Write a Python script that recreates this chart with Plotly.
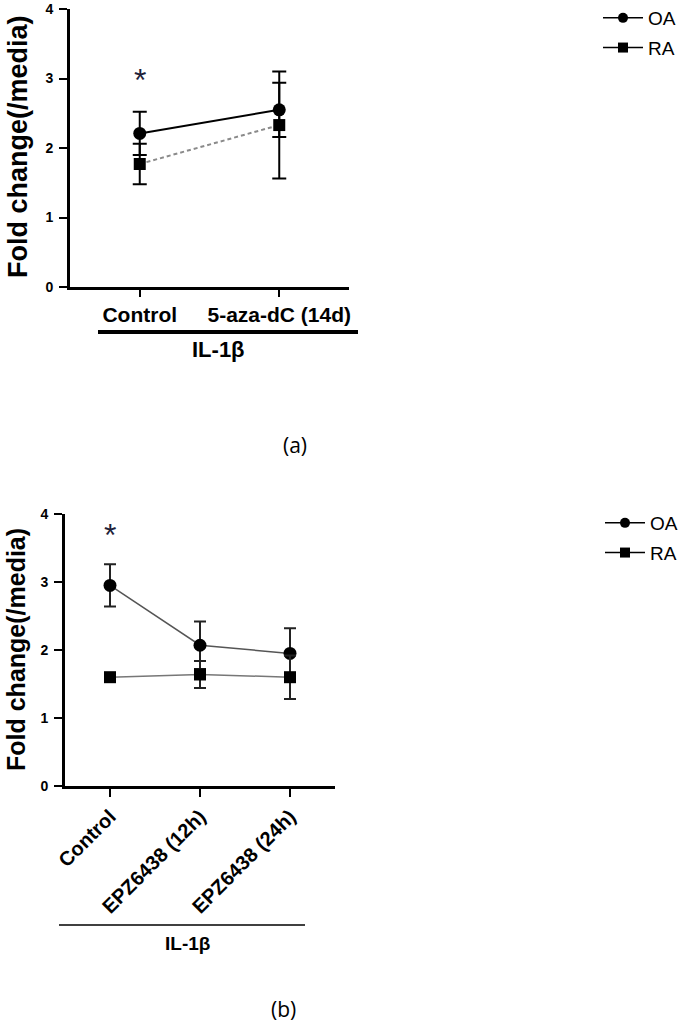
import plotly.graph_objects as go

W, H = 681, 1028

# ---------------- data ----------------
cats_a = ["Control", "5-aza-dC (14d)"]
oa_a = [2.21, 2.55]
oa_a_err = [0.31, 0.39]
ra_a = [1.77, 2.33]
ra_a_err = [0.29, 0.77]

cats_b = ["Control", "EPZ6438 (12h)", "EPZ6438 (24h)"]
oa_b = [2.95, 2.07, 1.95]
oa_b_err = [0.31, 0.35, 0.37]
ra_b = [1.60, 1.64, 1.60]
ra_b_err = [0.0, 0.20, 0.32]

y_ticks = [0, 1, 2, 3, 4]
series_names = ["OA", "RA"]
group_label = "IL-1β"
y_title = "Fold change(/media)"
star_a = (0, 3.03)
star_b = (0, 3.75)


def px(x):
    return x / W


def py(y):
    return (H - y) / H


fig = go.Figure()

# Panel (a)
fig.add_trace(go.Scatter(
    x=cats_a, y=oa_a, mode="lines+markers", xaxis="x", yaxis="y", showlegend=False,
    line=dict(color="black", width=2),
    marker=dict(symbol="circle", size=13, color="black"),
    error_y=dict(type="data", array=oa_a_err, color="black", thickness=2, width=7)))
fig.add_trace(go.Scatter(
    x=cats_a, y=ra_a, mode="lines+markers", xaxis="x", yaxis="y", showlegend=False,
    line=dict(color="#8a8a8a", width=2, dash="4px,3px"),
    marker=dict(symbol="square", size=12, color="black"),
    error_y=dict(type="data", array=ra_a_err, color="black", thickness=2, width=7)))

# Panel (b)
fig.add_trace(go.Scatter(
    x=cats_b, y=oa_b, mode="lines+markers", xaxis="x2", yaxis="y2", showlegend=False,
    line=dict(color="#555555", width=1.5),
    marker=dict(symbol="circle", size=13, color="black"),
    error_y=dict(type="data", array=oa_b_err, color="#222222", thickness=2, width=6)))
fig.add_trace(go.Scatter(
    x=cats_b, y=ra_b, mode="lines+markers", xaxis="x2", yaxis="y2", showlegend=False,
    line=dict(color="#777777", width=1.5),
    marker=dict(symbol="square", size=12, color="black"),
    error_y=dict(type="data", array=ra_b_err, color="#222222", thickness=2, width=6)))

# legend entries
for leg in ["legend", "legend2"]:
    for name, sym in zip(series_names, ["circle", "square"]):
        fig.add_trace(go.Scatter(
            x=[None], y=[None], mode="lines+markers", name=name, legend=leg,
            legendgroup=leg + name, xaxis="x", yaxis="y",
            line=dict(color="black", width=1.5),
            marker=dict(symbol=sym, size=10, color="black")))

common_y = dict(range=[0, 4], tickvals=y_ticks, showgrid=False, zeroline=False,
                showline=True, linecolor="black", linewidth=3, ticks="outside",
                ticklen=8, tickwidth=2, tickcolor="black", ticklabelstandoff=3,
                automargin=False, ticklabeloverflow="allow",
                tickfont=dict(family="Arial", size=14, color="black", weight="bold"))

common_x = dict(type="category", showgrid=False, zeroline=False, automargin=False,
                showline=True, linecolor="black", linewidth=3, ticks="outside",
                tickwidth=2, tickcolor="black", ticklabeloverflow="allow")

legend_font = dict(family="Arial", size=19, color="black")


def note(text, x, y, size, family="Arial", angle=0, xref="paper", yref="paper",
         color="black", yshift=0):
    return dict(text=text, xref=xref, yref=yref, x=x, y=y, textangle=angle,
                showarrow=False, xanchor="center", yanchor="middle", yshift=yshift,
                font=dict(family=family, size=size, color=color))


fig.update_layout(
    width=W, height=H, margin=dict(l=0, r=0, t=0, b=0, autoexpand=False),
    paper_bgcolor="white", plot_bgcolor="white",
    xaxis=dict(domain=[px(70), px(349)], anchor="y", range=[-0.5, 1.5],
               ticklen=7, ticklabelstandoff=0,
               tickfont=dict(family="Arial", size=21, color="black", weight="bold"),
               **common_x),
    yaxis=dict(domain=[py(287), py(9)], anchor="x", **common_y),
    xaxis2=dict(domain=[px(65), px(335)], anchor="y2", range=[-0.5, 2.5],
                ticklen=8, tickangle=-45,
                tickfont=dict(family="Arial", size=20, color="black", weight="bold"),
                **common_x),
    yaxis2=dict(domain=[py(786), py(514)], anchor="x2", **common_y),
    legend=dict(x=px(598), y=py(-1), xanchor="left", yanchor="top", font=legend_font,
                itemwidth=40, tracegroupgap=2, bgcolor="rgba(0,0,0,0)"),
    legend2=dict(x=px(600), y=py(504), xanchor="left", yanchor="top", font=legend_font,
                 itemwidth=40, tracegroupgap=2, bgcolor="rgba(0,0,0,0)"),
    shapes=[
        dict(type="line", xref="paper", yref="paper", x0=px(98), x1=px(358),
             y0=py(332), y1=py(332), line=dict(color="black", width=4)),
        dict(type="line", xref="paper", yref="paper", x0=px(59), x1=px(305),
             y0=py(925), y1=py(925), line=dict(color="black", width=1.5)),
    ],
    annotations=[
        note("<b>" + y_title + "</b>", px(18), py(147), 27, angle=-90),
        note("<b>" + y_title + "</b>", px(16), py(650), 25, angle=-90),
        note("<b>" + group_label + "</b>", px(218), py(349), 22),
        note("<b>" + group_label + "</b>", px(187), py(943), 19),
        note("(a)", px(295), py(445), 21, family="Open Sans"),
        note("(b)", px(283), py(1009), 21, family="Open Sans"),
        note("*", star_a[0], star_a[1], 32, xref="x", yref="y", color="#1f1f3a", yshift=-4),
        note("*", star_b[0], star_b[1], 32, xref="x2", yref="y2", color="#1f1f3a", yshift=-4),
    ],
)

fig.write_html("out.html")
